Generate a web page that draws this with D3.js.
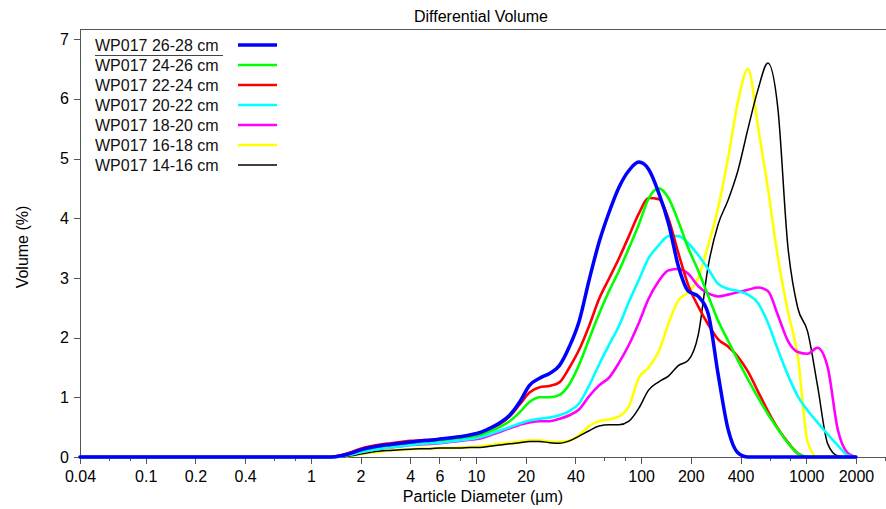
<!DOCTYPE html>
<html>
<head>
<meta charset="utf-8">
<script src="https://cdn.jsdelivr.net/npm/d3@7"></script>
<style>
  html, body { margin: 0; padding: 0; background: #fff; }
  svg { display: block; }
  text { font-family: "Liberation Sans", Arial, sans-serif; }
</style>
</head>
<body>
<svg id="chart" width="886" height="509"></svg>
<script>
// Particle diameters (µm)
const diameters = [0.04,
  1.0, 1.15, 1.32, 1.52, 1.74,
  2.0, 2.3, 2.64, 3.03, 3.48,
  4.0, 4.59, 5.28, 6.06, 6.96,
  8.0, 9.19, 10.6, 12.1, 13.9,
  16.0, 18.4, 21.1, 24.3, 27.9,
  32.0, 36.8, 42.2, 48.5, 55.7,
  64.0, 73.5, 84.4, 97.0, 111,
  128, 147, 168, 193, 222,
  255, 293, 336, 386, 444,
  510, 586, 673, 773, 888,
  1020, 1170, 1350, 1550, 1780,
  2000];

// Differential volume (%)
const wp_26_28 = [0,
  0,0,0,0.02,0.06,
  0.12,0.16,0.19,0.21,0.23,
  0.25,0.27,0.28,0.3,0.32,
  0.34,0.37,0.41,0.48,0.57,
  0.7,0.92,1.2,1.32,1.4,
  1.53,1.85,2.28,2.97,3.6,
  4.1,4.52,4.8,4.94,4.82,
  4.42,3.9,3.2,2.78,2.69,
  2.4,1.38,0.47,0.07,0,
  0,0,0,0,0,
  0,0,0,0,0,
  0];
const wp_24_26 = [0,
  0,0,0,0.02,0.06,
  0.11,0.15,0.18,0.2,0.22,
  0.24,0.26,0.27,0.28,0.3,
  0.32,0.34,0.37,0.43,0.5,
  0.6,0.75,0.92,1.0,1.0,
  1.04,1.22,1.55,1.98,2.4,
  2.78,3.12,3.5,3.9,4.33,
  4.5,4.33,3.95,3.5,3.12,
  2.7,2.28,1.95,1.62,1.3,
  1.0,0.72,0.47,0.24,0.06,
  0,0,0,0,0,
  0];
const wp_22_24 = [0,
  0,0,0,0.03,0.08,
  0.14,0.18,0.21,0.23,0.25,
  0.27,0.28,0.29,0.3,0.32,
  0.34,0.37,0.41,0.47,0.55,
  0.68,0.88,1.08,1.17,1.19,
  1.25,1.5,1.8,2.2,2.65,
  2.99,3.33,3.7,4.08,4.34,
  4.32,3.98,3.42,2.88,2.52,
  2.22,1.97,1.85,1.68,1.43,
  1.1,0.77,0.48,0.25,0.06,
  0,0,0,0,0,
  0];
const wp_20_22 = [0,
  0,0,0,0.01,0.04,
  0.08,0.11,0.14,0.16,0.18,
  0.2,0.22,0.23,0.24,0.26,
  0.28,0.3,0.33,0.38,0.44,
  0.5,0.56,0.61,0.64,0.66,
  0.7,0.77,0.9,1.2,1.55,
  1.88,2.2,2.6,2.97,3.33,
  3.55,3.7,3.7,3.58,3.38,
  3.15,2.9,2.82,2.78,2.72,
  2.58,2.25,1.8,1.38,1.02,
  0.78,0.58,0.38,0.2,0.03,
  0];
const wp_18_20 = [0,
  0,0,0,0.01,0.04,
  0.08,0.11,0.14,0.16,0.18,
  0.2,0.21,0.22,0.23,0.25,
  0.27,0.29,0.31,0.36,0.42,
  0.48,0.54,0.58,0.6,0.6,
  0.64,0.7,0.8,1.02,1.2,
  1.33,1.58,1.88,2.25,2.65,
  2.95,3.13,3.15,3.07,2.86,
  2.74,2.69,2.72,2.76,2.8,
  2.84,2.78,2.38,1.95,1.76,
  1.73,1.83,1.5,0.47,0.07,
  0];
const wp_16_18 = [0,
  0,0,0,0,0.02,
  0.05,0.07,0.09,0.11,0.12,
  0.13,0.14,0.14,0.15,0.15,
  0.16,0.17,0.18,0.2,0.22,
  0.24,0.26,0.28,0.28,0.26,
  0.25,0.27,0.37,0.52,0.6,
  0.63,0.68,0.85,1.33,1.5,
  1.77,2.25,2.62,2.76,3.0,
  3.55,4.18,5.0,5.95,6.5,
  5.55,4.5,3.35,2.45,1.7,
  0.25,0,0,0,0,
  0];
const wp_14_16 = [0,
  0,0,0,0,0.02,
  0.05,0.08,0.1,0.11,0.12,
  0.13,0.14,0.14,0.15,0.15,
  0.15,0.16,0.16,0.18,0.2,
  0.22,0.24,0.26,0.26,0.24,
  0.23,0.27,0.35,0.44,0.52,
  0.54,0.54,0.6,0.82,1.12,
  1.26,1.36,1.53,1.62,2.05,
  3.2,3.9,4.3,4.8,5.5,
  6.15,6.6,5.85,3.55,2.5,
  2.1,1.2,0.22,0.02,0,
  0];

const seriesNames = ["WP017 26-28 cm","WP017 24-26 cm","WP017 22-24 cm","WP017 20-22 cm","WP017 18-20 cm","WP017 16-18 cm","WP017 14-16 cm"];
const seriesValues = [wp_26_28, wp_24_26, wp_22_24, wp_20_22, wp_18_20, wp_16_18, wp_14_16];
const seriesColors = ["#0000ff","#00ff00","#ff0000","#00ffff","#ff00ff","#ffff00","#000000"];
const seriesWidths = [3.5, 2.6, 2.6, 2.6, 2.6, 2.6, 1.5];

const xMajorTicks = [0.04,0.1,0.2,0.4,1,2,4,6,10,20,40,100,200,400,1000,2000];
const xMinorTicks = [0.06,0.08,0.6,0.8,8,60,80,600,800,3000];
const yTicks = [0,1,2,3,4,5,6,7];

const titleText = "Differential Volume";
const xLabel = "Particle Diameter (µm)";
const yLabel = "Volume (%)";

const svg = d3.select("#chart");
const axisColor = "#555";

const x = d3.scaleLog().domain([0.04, 3000]).range([80, 885]);
const y = d3.scaleLinear().domain([0, 7.17]).range([457, 29]);

// top frame line
svg.append("line").attr("x1", 80).attr("x2", 886).attr("y1", 29).attr("y2", 29)
  .attr("stroke", axisColor).attr("stroke-width", 1).attr("shape-rendering","crispEdges");

// title
svg.append("text").attr("x", 481).attr("y", 22).attr("text-anchor","middle")
  .attr("font-size", 16).attr("fill","#000").text(titleText);

// y axis
const yAxis = svg.append("g").attr("transform","translate(80,0)")
  .call(d3.axisLeft(y).tickValues(yTicks).tickFormat(d3.format("d")).tickSize(6).tickSizeOuter(0).tickPadding(5));
yAxis.selectAll("text").attr("font-size", 16).attr("fill","#000").style("font-family","'Liberation Sans', Arial, sans-serif");

// x axis major
const xAxis = svg.append("g").attr("transform","translate(0,457)")
  .call(d3.axisBottom(x).tickValues(xMajorTicks).tickFormat(d => String(d)).tickSize(7).tickSizeOuter(0).tickPadding(7));
xAxis.selectAll("text").attr("font-size", 16).attr("fill","#000").style("font-family","'Liberation Sans', Arial, sans-serif");
// x axis minor
const xMinor = svg.append("g").attr("transform","translate(0,457)")
  .call(d3.axisBottom(x).tickValues(xMinorTicks).tickFormat("").tickSize(4).tickSizeOuter(0));
xMinor.select(".domain").remove();

[yAxis, xAxis, xMinor].forEach(g => {
  g.selectAll("line").attr("stroke", axisColor).attr("shape-rendering","crispEdges");
  g.selectAll(".domain").attr("stroke", axisColor).attr("shape-rendering","crispEdges");
});

// axis labels
svg.append("text").attr("x", 483).attr("y", 502).attr("text-anchor","middle")
  .attr("font-size", 16).attr("fill","#000").text(xLabel);
svg.append("text").attr("transform","translate(28,247) rotate(-90)").attr("text-anchor","middle")
  .attr("font-size", 16).attr("fill","#000").text(yLabel);

// lines
const line = d3.line()
  .x(d => x(d[0]))
  .y(d => y(d[1]))
  .curve(d3.curveMonotoneX);

const drawOrder = [5, 6, 4, 3, 2, 1, 0];
drawOrder.forEach(i => {
  const pts = diameters.map((dm, k) => [dm, seriesValues[i][k]]);
  svg.append("path").datum(pts)
    .attr("d", line)
    .attr("fill","none")
    .attr("stroke", seriesColors[i])
    .attr("stroke-width", seriesWidths[i])
    .attr("stroke-linejoin","round")
    .attr("stroke-linecap","round");
});

// legend
const legend = svg.append("g");
seriesNames.forEach((name, i) => {
  const cy = 45 + i * 20;
  legend.append("text").attr("x", 95).attr("y", cy + 6).attr("font-size", 16)
    .attr("fill","#111").text(name);
  legend.append("line").attr("x1", 238).attr("x2", 277).attr("y1", cy).attr("y2", cy)
    .attr("stroke", seriesColors[i]).attr("stroke-width", seriesWidths[i]);
});
legend.append("line").attr("x1", 95).attr("x2", 223).attr("y1", 55.5).attr("y2", 55.5)
  .attr("stroke", "#444").attr("stroke-width", 1);
</script>
</body>
</html>
